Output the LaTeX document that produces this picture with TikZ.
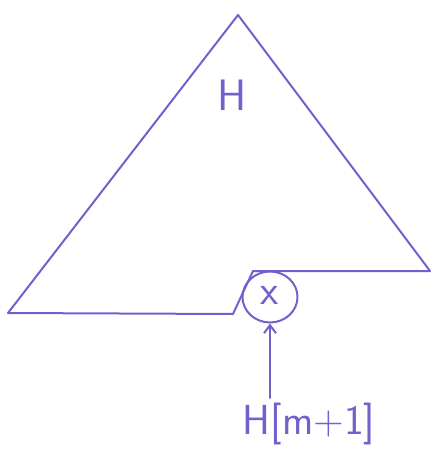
\documentclass[tikz,border=0pt]{standalone}
\usetikzlibrary{arrows.meta,shapes.geometric}
\definecolor{pen}{RGB}{112,98,204}
\begin{document}
\begin{tikzpicture}[x=1pt,y=-1pt,
  stroke/.style={draw=pen,line width=2pt,line cap=round,line join=round},
  lbl/.style={text=pen,inner sep=0pt,font=\sffamily}]
\useasboundingbox (0,0) rectangle (433,461);
\coordinate (apex) at (238,15);
\coordinate (left) at (8,313);
\coordinate (right) at (430,271);
\coordinate (bl) at (233,314);
\coordinate (tc) at (253,271);
\node[stroke,ellipse,minimum width=55pt,minimum height=51pt,inner sep=0pt] (c) at (270,297) {};
\node[lbl,font=\sffamily\fontsize{42}{42}\selectfont] (x) at (270,295) {x};
\draw[stroke] (left) -- (bl) -- (tc) -- (right) -- (apex) -- cycle;
\node[lbl,font=\sffamily\fontsize{44}{44}\selectfont] (H) at (232,95) {H};
\node[lbl,font=\sffamily\fontsize{42}{42}\selectfont] (lab) at (309,424) {H[m+1]};
\coordinate (tail) at (270,398);
\draw[stroke,-{Straight Barb[length=8pt,width=12pt]}] (tail) -- (c.south);
\end{tikzpicture}
\end{document}
